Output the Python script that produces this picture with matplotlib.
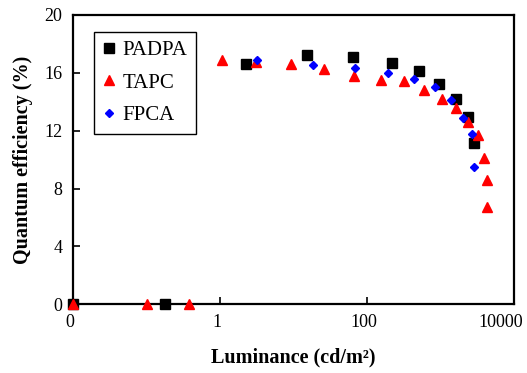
import matplotlib
matplotlib.use("Agg")
import matplotlib.pyplot as plt
import matplotlib.transforms as mtransforms
from matplotlib.ticker import FixedLocator, FixedFormatter

plt.rcParams['font.family'] = ['Liberation Serif', 'DejaVu Serif']

padpa_x = [0.01, 0.18, 2.24, 15.1, 65, 216, 519, 970, 1650, 2354, 2900]
padpa_y = [0, 0, 16.63, 17.23, 17.09, 16.7, 16.15, 15.25, 14.21, 12.97, 11.13]

tapc_x = [0.01, 0.101, 0.373, 1.07, 3.13, 9.36, 26.3, 66.5, 155, 324, 606, 1047, 1633, 2400, 3283, 3890, 4360, 4270]
tapc_y = [0, 0, 0, 16.88, 16.77, 16.58, 16.28, 15.78, 15.48, 15.43, 14.81, 14.19, 13.59, 12.58, 11.72, 10.11, 8.59, 6.70]

fpca_x = [3.2, 18.2, 68.7, 195, 440, 832, 1383, 2032, 2692, 2900]
fpca_y = [16.9, 16.56, 16.35, 16.0, 15.57, 15.0, 14.12, 12.87, 11.77, 9.51]

x_ticks = [0.01, 1, 100, 10000]
x_tick_labels = ["0", "1", "100", "10000"]
y_ticks = [0, 4, 8, 12, 16, 20]

fig = plt.figure(figsize=(5.27, 3.73), dpi=100)
ax = fig.add_axes([0.139, 0.184, 0.836, 0.776])

ax.plot(padpa_x, padpa_y, linestyle='none', marker='s', color='black', markersize=6.8, label='PADPA', clip_on=False, zorder=3)
ax.plot(tapc_x, tapc_y, linestyle='none', marker='^', color='red', markersize=6.5, label='TAPC', clip_on=False, zorder=4)
ax.plot(fpca_x, fpca_y, linestyle='none', marker='D', color='blue', markersize=4.5, label='FPCA', clip_on=False, zorder=5)

ax.set_xscale('log')
ax.set_xlim(0.01, 10000)
ax.set_ylim(0, 20)
ax.xaxis.set_major_locator(FixedLocator(x_ticks))
ax.xaxis.set_major_formatter(FixedFormatter(x_tick_labels))
ax.xaxis.set_minor_locator(FixedLocator([]))
ax.set_yticks(y_ticks)

for s in ax.spines.values():
    s.set_linewidth(1.6)
ax.tick_params(axis='both', which='major', direction='in', length=5, width=1.2,
               labelsize=13, top=False, right=False)
ax.tick_params(axis='x', pad=7)
ax.tick_params(axis='y', pad=8)

fig.canvas.draw()
labels = ax.get_xticklabels()
for i, lab in enumerate(labels):
    dx = -13 if i == len(labels) - 1 else -3
    lab.set_transform(lab.get_transform() + mtransforms.ScaledTranslation(dx / 100, 0, fig.dpi_scale_trans))

ax.set_xlabel('Luminance (cd/m²)', fontsize=14.5, fontweight='bold', labelpad=12)
ax.set_ylabel('Quantum efficiency (%)', fontsize=14.5, fontweight='bold', labelpad=8)

leg = ax.legend(loc='upper left', bbox_to_anchor=(0.048, 0.94), fontsize=15,
                frameon=True, fancybox=False, edgecolor='black', framealpha=1,
                borderaxespad=0, handlelength=0.6, handletextpad=0.35,
                borderpad=0.4, labelspacing=0.62)
leg.get_frame().set_linewidth(1.0)

fig.savefig('out.png', dpi=100)
